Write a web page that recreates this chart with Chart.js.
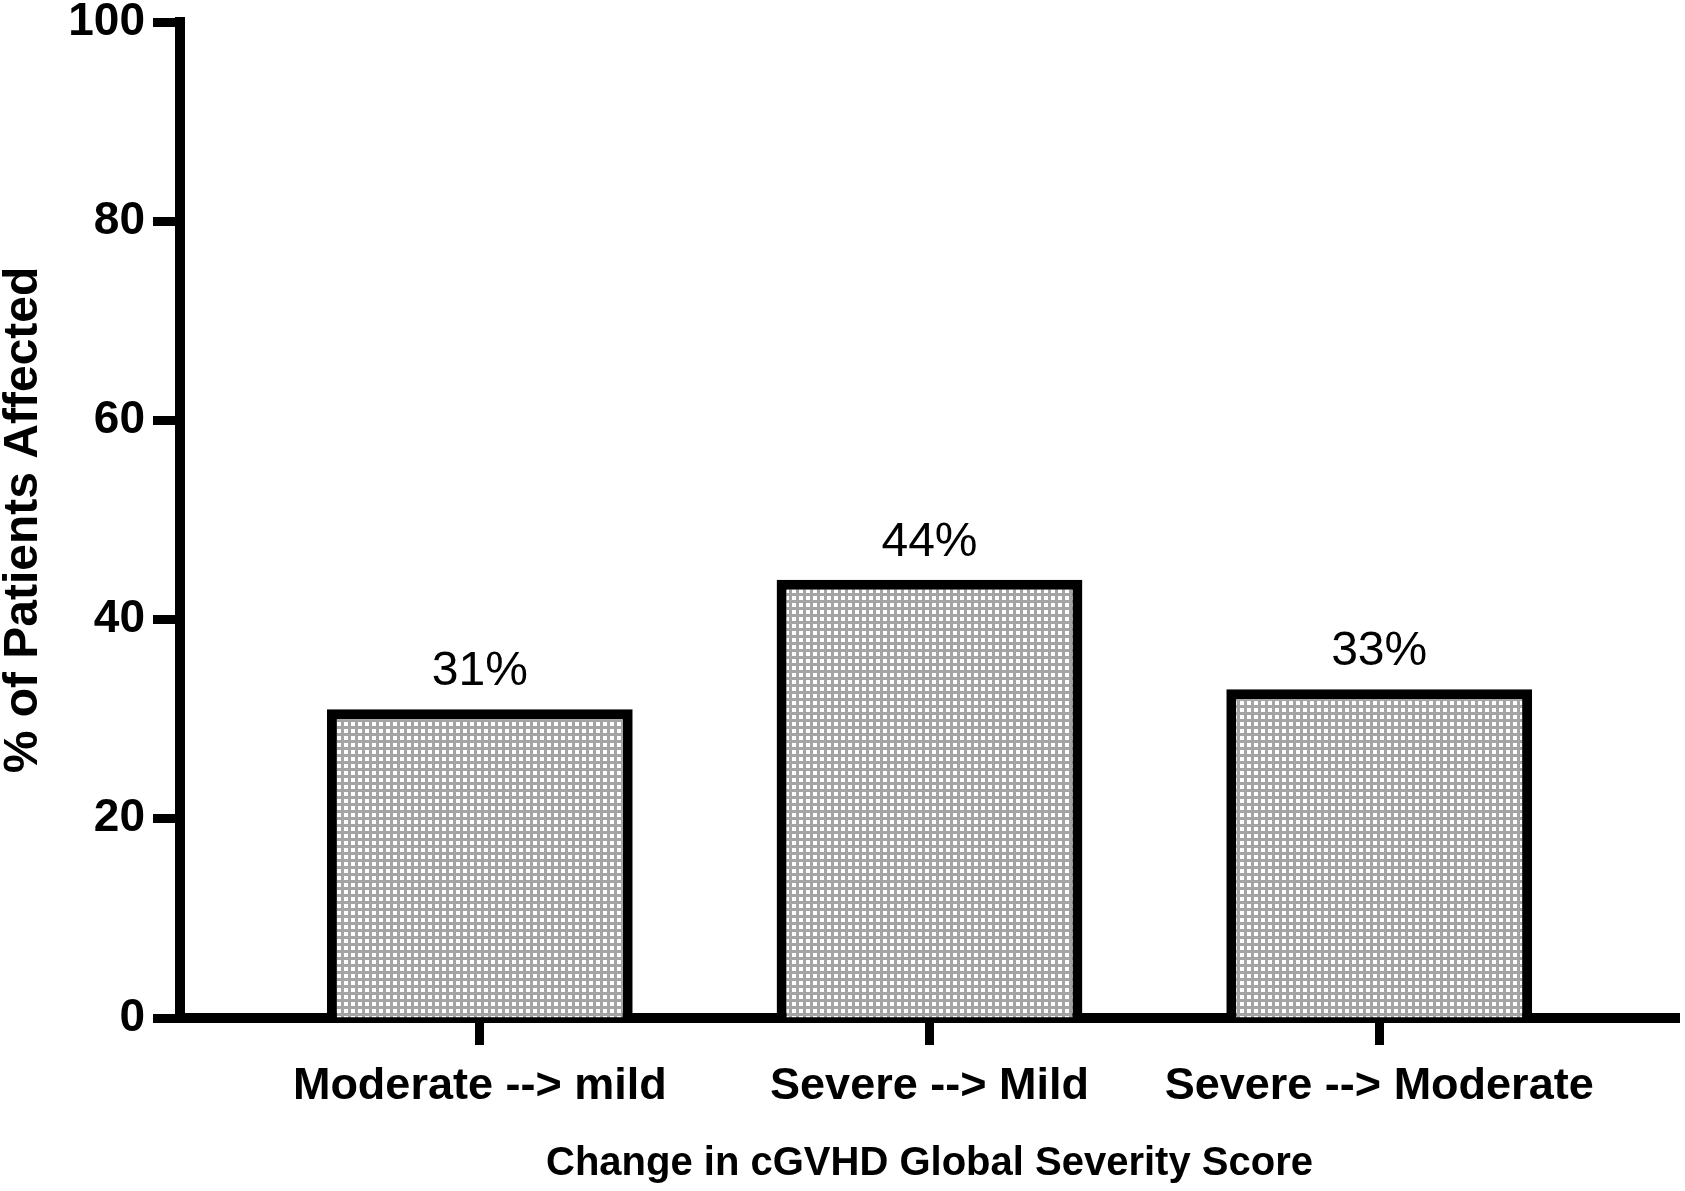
<!DOCTYPE html>
<html>
<head>
<meta charset="utf-8">
<script src="https://cdn.jsdelivr.net/npm/chart.js@4.4.0/dist/chart.umd.min.js"></script>
<style>
  body { margin: 0; background: #fff; }
  canvas { display: block; }
</style>
</head>
<body>
<canvas id="severityChart" width="1685" height="1191"></canvas>
<script>
// data
const categories = ['Moderate --> mild', 'Severe --> Mild', 'Severe --> Moderate'];
const percentAffected = [31, 44, 33];
const yTicks = [0, 20, 40, 60, 80, 100];

const FONT = "'Liberation Sans', Arial, sans-serif";

// grey dotted fill like the original bars
function makeDotPattern() {
    const tile = document.createElement('canvas');
    tile.width = 7;
    tile.height = 7;
    const t = tile.getContext('2d');
    t.fillStyle = '#a4a4a4';
    t.fillRect(0, 0, 7, 7);
    t.fillStyle = '#ffffff';
    t.fillRect(1, 1, 4, 4);
    return t.createPattern(tile, 'repeat');
}

// percent labels above the bars
const valueLabels = {
    id: 'valueLabels',
    afterDatasetsDraw(chart) {
        const ctx = chart.ctx;
        const meta = chart.getDatasetMeta(0);
        ctx.save();
        ctx.font = '48px ' + FONT;
        ctx.fillStyle = '#000';
        ctx.textAlign = 'center';
        ctx.textBaseline = 'alphabetic';
        meta.data.forEach((bar, i) => {
            ctx.fillText(percentAffected[i] + '%', bar.x, bar.y - 24);
        });
        ctx.restore();
    }
};

const ctx = document.getElementById('severityChart').getContext('2d');

new Chart(ctx, {
    type: 'bar',
    data: {
        datasets: [{
            data: percentAffected.map((v, i) => ({ x: i + 1, y: v })),
            backgroundColor: makeDotPattern(),
            borderColor: '#000',
            borderWidth: 10,
            borderSkipped: 'start',
            barPercentage: 0.68,
            categoryPercentage: 1
        }]
    },
    options: {
        responsive: false,
        animation: false,
        layout: { padding: { top: 22, right: 6, left: 0, bottom: 0 } },
        plugins: {
            legend: { display: false },
            tooltip: { enabled: false }
        },
        scales: {
            x: {
                type: 'linear',
                z: 1,
                offset: false,
                min: 1 / 3,
                max: 11 / 3,
                afterBuildTicks: scale => {
                    scale.ticks = categories.map((c, i) => ({ value: i + 1 }));
                },
                afterFit: scale => {
                    scale.height = 173;
                    scale.paddingLeft = 0;
                    scale.paddingRight = 0;
                },
                grid: {
                    offset: false,
                    drawOnChartArea: false,
                    color: '#000',
                    tickLength: 27,
                    tickWidth: 9
                },
                border: { color: '#000', width: 10 },
                ticks: {
                    padding: 15,
                    color: '#000',
                    maxRotation: 0,
                    autoSkip: false,
                    font: { family: FONT, size: 45, weight: 'bold' },
                    callback: v => categories[v - 1] || ''
                },
                title: {
                    display: true,
                    text: 'Change in cGVHD Global Severity Score',
                    color: '#000',
                    padding: { top: 0, bottom: 7 },
                    font: { family: FONT, size: 40, weight: 'bold', lineHeight: 1 }
                }
            },
            y: {
                min: 0,
                max: 100,
                afterBuildTicks: scale => {
                    scale.ticks = yTicks.map(v => ({ value: v }));
                },
                afterFit: scale => {
                    scale.width = 180;
                    scale.paddingTop = 0;
                    scale.paddingBottom = 0;
                },
                grid: {
                    drawOnChartArea: false,
                    color: '#000',
                    tickLength: 27,
                    tickWidth: 9
                },
                border: { color: '#000', width: 10 },
                ticks: {
                    padding: 8,
                    color: '#000',
                    font: { family: FONT, size: 46, weight: 'bold', lineHeight: 1 }
                },
                title: {
                    display: true,
                    text: '% of Patients Affected',
                    color: '#000',
                    padding: { top: 0, bottom: 0 },
                    font: { family: FONT, size: 48, weight: 'bold', lineHeight: 1 }
                }
            }
        }
    },
    plugins: [valueLabels]
});
</script>
</body>
</html>
